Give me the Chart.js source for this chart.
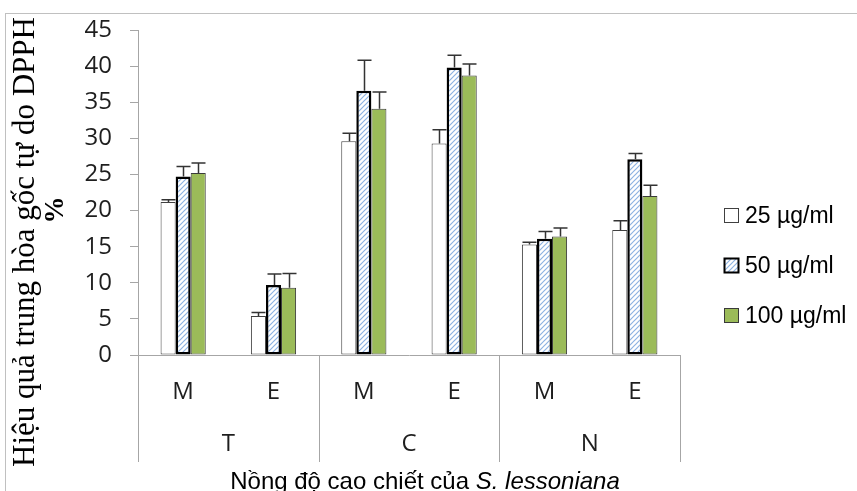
<!DOCTYPE html>
<html>
<head>
<meta charset="utf-8">
<script src="https://cdn.jsdelivr.net/npm/chart.js@4/dist/chart.umd.min.js"></script>
<style>
  html, body { margin: 0; padding: 0; background: #fff; }
  canvas { display: block; }
</style>
</head>
<body>
<canvas id="dpph-chart" width="857" height="491"></canvas>
<script>
// extract type / solvent, three doses
const categories = ['M', 'E', 'M', 'E', 'M', 'E'];
const groups = ['T', 'C', 'N'];
const seriesNames = ['25 µg/ml', '50 µg/ml', '100 µg/ml'];

const dose25 = [21.2, 5.4, 29.6, 29.3, 15.3, 17.3];
const dose50 = [24.7, 9.7, 36.6, 39.8, 16.1, 27.1];
const dose100 = [25.2, 9.3, 34.1, 38.7, 16.4, 22.0];

const err25 = [0.3, 0.5, 1.1, 1.9, 0.3, 1.3];
const err50 = [1.4, 1.5, 4.2, 1.7, 1.0, 0.8];
const err100 = [1.4, 2.0, 2.3, 1.6, 1.2, 1.5];

const yTitle = 'Hiệu quả trung hòa gốc tự do DPPH';
const yUnit = '%';
const xTitleMain = 'Nồng độ cao chiết của ';
const xTitleSpecies = 'S. lessoniana';

const tickFont = "'Open Sans', sans-serif";
const arial = "'Liberation Sans', Arial, sans-serif";
const serif = "'Liberation Serif', 'Times New Roman', serif";
const axisGray = '#a6a6a6';
const textDark = '#1e1e1e';

// light blue diagonal hatch for the 50 µg/ml bars
function makeHatch() {
    const c = document.createElement('canvas');
    c.width = 5; c.height = 5;
    const g = c.getContext('2d');
    g.fillStyle = '#ffffff';
    g.fillRect(0, 0, 5, 5);
    g.strokeStyle = '#8db3e2';
    g.lineWidth = 1.2;
    g.beginPath();
    g.moveTo(-1, 6); g.lineTo(6, -1);
    g.moveTo(-1, 1); g.lineTo(1, -1);
    g.moveTo(4, 6); g.lineTo(6, 4);
    g.stroke();
    return g.createPattern(c, 'repeat');
}
const hatch = makeHatch();

const errors = [err25, err50, err100];

const framePlugin = {
    id: 'frame',
    beforeDraw(chart) {
        const ctx = chart.ctx;
        ctx.save();
        ctx.fillStyle = '#fff';
        ctx.fillRect(0, 0, chart.width, chart.height);
        ctx.strokeStyle = '#c0c0c0';
        ctx.lineWidth = 1;
        ctx.strokeRect(5.5, 13.5, chart.width, chart.height);
        ctx.restore();
    },
};

// upper error bars
const errorBarPlugin = {
    id: 'errorBars',
    afterDatasetsDraw(chart) {
        const ctx = chart.ctx;
        const y = chart.scales.y;
        ctx.save();
        ctx.strokeStyle = '#333';
        ctx.lineWidth = 1.5;
        chart.data.datasets.forEach((ds, di) => {
            const meta = chart.getDatasetMeta(di);
            meta.data.forEach((bar, i) => {
                const top = y.getPixelForValue(ds.data[i]);
                const end = y.getPixelForValue(ds.data[i] + errors[di][i]);
                const x = Math.round(bar.x) + 0.5;
                ctx.beginPath();
                ctx.moveTo(x, top);
                ctx.lineTo(x, end);
                ctx.moveTo(x - 7, end);
                ctx.lineTo(x + 7, end);
                ctx.stroke();
            });
        });
        ctx.restore();
    },
};

// group separators, T / C / N labels, axis titles and legend
const decorPlugin = {
    id: 'decor',
    afterDraw(chart) {
        const ctx = chart.ctx;
        const x = chart.scales.x;
        const area = chart.chartArea;
        const lineBottom = area.bottom + 107;
        ctx.save();

        ctx.strokeStyle = axisGray;
        ctx.lineWidth = 1;
        const bounds = [area.left];
        for (let g = 1; g < groups.length; g++) {
            bounds.push((x.getPixelForValue(2 * g - 1) + x.getPixelForValue(2 * g)) / 2);
        }
        bounds.push(area.right);
        bounds.forEach(bx => {
            const px = Math.round(bx) + 0.5;
            ctx.beginPath();
            ctx.moveTo(px, area.bottom);
            ctx.lineTo(px, lineBottom);
            ctx.stroke();
        });

        ctx.fillStyle = textDark;
        ctx.font = '24px ' + tickFont;
        ctx.textAlign = 'center';
        ctx.textBaseline = 'middle';
        groups.forEach((g, gi) => {
            const cx = (x.getPixelForValue(2 * gi) + x.getPixelForValue(2 * gi + 1)) / 2;
            ctx.fillText(g, cx, area.bottom + 89);
        });

        // x title, species name in italics
        ctx.fillStyle = '#000';
        ctx.textBaseline = 'alphabetic';
        ctx.textAlign = 'left';
        ctx.font = '24px ' + arial;
        const w1 = ctx.measureText(xTitleMain).width;
        ctx.font = 'italic 24px ' + arial;
        const w2 = ctx.measureText(xTitleSpecies).width;
        const tx = 425 - (w1 + w2) / 2;
        ctx.font = '24px ' + arial;
        ctx.fillText(xTitleMain, tx, 489);
        ctx.font = 'italic 24px ' + arial;
        ctx.fillText(xTitleSpecies, tx + w1, 489);

        // y title
        ctx.save();
        ctx.translate(26, 242);
        ctx.rotate(-Math.PI / 2);
        ctx.textAlign = 'center';
        ctx.textBaseline = 'middle';
        ctx.font = '31px ' + serif;
        ctx.fillText(yTitle, 0, 0);
        ctx.restore();
        ctx.save();
        ctx.translate(56, 210);
        ctx.rotate(-Math.PI / 2);
        ctx.textAlign = 'center';
        ctx.textBaseline = 'middle';
        ctx.font = 'bold 27px ' + serif;
        ctx.fillText(yUnit, 0, 0);
        ctx.restore();

        // legend
        const legendY = [216, 266, 316];
        chart.data.datasets.forEach((ds, di) => {
            const cy = legendY[di];
            ctx.fillStyle = ds.backgroundColor;
            ctx.fillRect(724, cy - 8, 15, 15);
            ctx.strokeStyle = ds.borderColor;
            ctx.lineWidth = di === 1 ? 2 : 1;
            ctx.strokeRect(724.5, cy - 7.5, 14, 14);
            ctx.fillStyle = '#000';
            ctx.font = '23px ' + arial;
            ctx.textAlign = 'left';
            ctx.textBaseline = 'middle';
            ctx.fillText(ds.label, 745, cy + 1);
        });

        ctx.restore();
    },
};

const canvas = document.getElementById('dpph-chart');

new Chart(canvas, {
    type: 'bar',
    data: {
        labels: categories,
        datasets: [
            {
                label: seriesNames[0],
                data: dose25,
                backgroundColor: '#ffffff',
                borderColor: '#404040',
                borderWidth: 1,
            },
            {
                label: seriesNames[1],
                data: dose50,
                backgroundColor: hatch,
                borderColor: '#000000',
                borderWidth: 2.5,
            },
            {
                label: seriesNames[2],
                data: dose100,
                backgroundColor: '#9bbb59',
                borderColor: '#3a3a3a',
                borderWidth: 1,
            },
        ],
    },
    options: {
        responsive: false,
        animation: false,
        events: [],
        categoryPercentage: 0.5,
        barPercentage: 1,
        borderSkipped: false,
        layout: { padding: { top: 15, right: 177, left: 0, bottom: 0 } },
        plugins: {
            legend: { display: false },
            tooltip: { enabled: false },
        },
        scales: {
            x: {
                grid: { display: false },
                border: { color: axisGray },
                ticks: {
                    color: textDark,
                    font: { family: tickFont, size: 24 },
                    padding: 15,
                },
                afterFit: (scale) => { scale.height = 136; },
            },
            y: {
                min: 0,
                max: 45,
                grid: { drawOnChartArea: false, tickLength: 8, color: axisGray },
                border: { color: axisGray },
                ticks: {
                    stepSize: 5,
                    color: textDark,
                    font: { family: tickFont, size: 24, lineHeight: 1 },
                    padding: 18,
                },
                afterFit: (scale) => { scale.width = 138; },
            },
        },
    },
    plugins: [framePlugin, errorBarPlugin, decorPlugin],
});
</script>
</body>
</html>
